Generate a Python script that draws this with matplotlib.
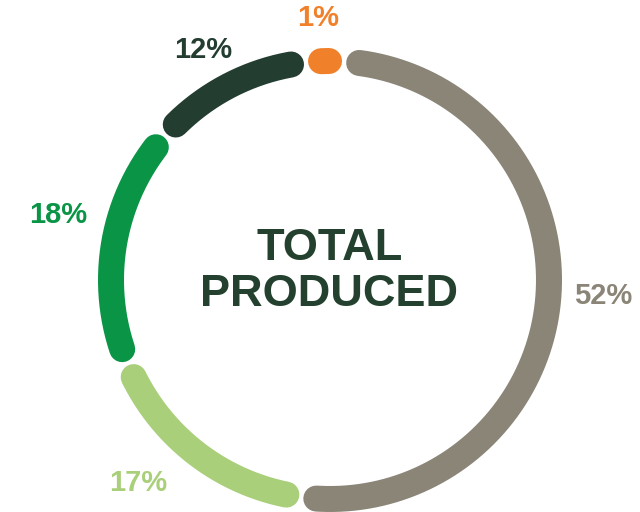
import numpy as np
import matplotlib
matplotlib.use("Agg")
import matplotlib.pyplot as plt

# share of total produced, clockwise from the top
labels = ["1%", "52%", "17%", "18%", "12%"]
shares = [1, 52, 17, 18, 12]
colors = ["#F0812A", "#8A8577", "#AACF7A", "#0A9446", "#243D31"]
label_pos = [(318, 18), (603, 296), (138, 483), (58, 215), (203, 50)]

cx, cy, r = 330, 280, 219
lw_px = 26
start = -6.3          # degrees, clockwise from top
trim = 3.95           # degrees removed at each end (round cap + gap)
min_sweep = 10.0      # tiny slices still get room for a dot

plt.rcParams["font.family"] = ["Liberation Sans", "DejaVu Sans"]
fig = plt.figure(figsize=(6.4, 5.12), dpi=100)
ax = fig.add_axes([0, 0, 1, 1])
ax.set_xlim(0, 640)
ax.set_ylim(512, 0)
ax.axis("off")

# sweep per slice, small ones widened and the rest scaled to fill 360
raw = np.array(shares, dtype=float) / sum(shares) * 360
small = raw < min_sweep
sweeps = np.where(small, min_sweep, raw * (360 - min_sweep * small.sum()) / raw[~small].sum())

lw_pt = lw_px * 72 / 100
cum = start
for sw, col in zip(sweeps, colors):
    a0, a1 = cum + trim, cum + sw - trim
    th = np.radians(np.linspace(a0, a1, 200))
    ax.plot(cx + r * np.sin(th), cy - r * np.cos(th), color=col,
            lw=lw_pt, solid_capstyle="round")
    cum += sw

for lab, col, (x, y) in zip(labels, colors, label_pos):
    ax.text(x, y, lab, color=col, fontsize=21, fontweight="bold",
            ha="center", va="center")

ax.text(cx, 249, "TOTAL", color="#24412F", fontsize=32.5, fontweight="bold",
        ha="center", va="center")
ax.text(cx - 1, 295, "PRODUCED", color="#24412F", fontsize=32.5, fontweight="bold",
        ha="center", va="center")

fig.savefig("out.png", dpi=100)
